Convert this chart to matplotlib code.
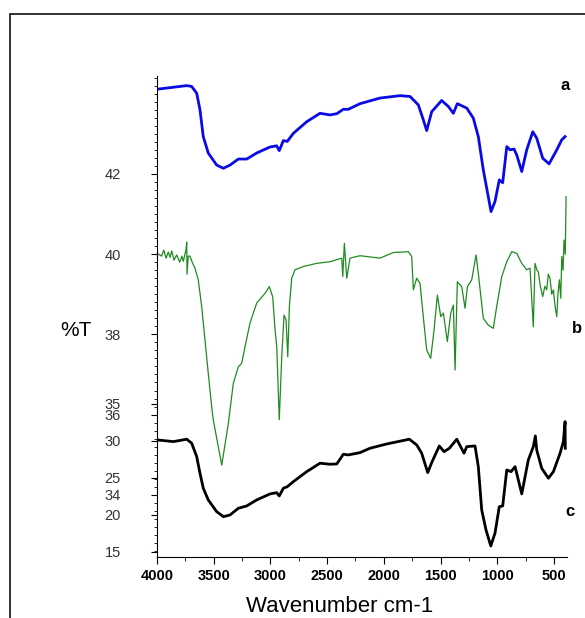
import matplotlib.pyplot as plt
from matplotlib.ticker import MultipleLocator
from matplotlib.patches import Rectangle

plt.rcParams['font.family'] = ['Liberation Sans', 'DejaVu Sans']

# === DATA =====================================================================
# sample a (blue), left scale 34..42
wn_a = [4000, 3738, 3694, 3650, 3621, 3592, 3548, 3474, 3415, 3356, 3283, 3209,
        3121, 3004, 2945, 2922, 2886, 2851, 2798, 2680, 2563, 2474, 2415, 2357,
        2313, 2210, 2034, 1857, 1769, 1696, 1652, 1622, 1578, 1490, 1431, 1387,
        1352, 1269, 1211, 1167, 1123, 1079, 1055, 1020, 982, 952, 916, 887, 852,
        828, 784, 740, 687, 652, 599, 543, 475, 431, 402]
t_a = [44.11, 44.20, 44.18, 44.01, 43.60, 42.93, 42.52, 42.22, 42.14, 42.22, 42.37, 42.37,
       42.52, 42.67, 42.70, 42.58, 42.83, 42.81, 43.01, 43.30, 43.51, 43.47, 43.50, 43.61,
       43.61, 43.75, 43.89, 43.95, 43.93, 43.72, 43.35, 43.08, 43.55, 43.83, 43.68, 43.51,
       43.75, 43.64, 43.39, 42.93, 42.10, 41.43, 41.06, 41.31, 41.85, 41.78, 42.68, 42.60, 42.62,
       42.47, 42.06, 42.60, 43.05, 42.89, 42.39, 42.25, 42.60, 42.85, 42.93]

# sample b (green), left scale 34..42
wn_b = [4000, 3960, 3940, 3920, 3900, 3885, 3870, 3850, 3826, 3800, 3780, 3768,
        3745, 3738, 3735, 3725, 3709, 3690, 3665, 3636, 3606, 3577, 3548, 3518,
        3504, 3429, 3371, 3327, 3283, 3253, 3224, 3180, 3121, 3048, 3010, 2980,
        2959, 2944, 2922, 2900, 2880, 2862, 2847, 2833, 2812, 2783, 2710, 2592,
        2474, 2371, 2362, 2348, 2327, 2298, 2210, 2034, 1916, 1784, 1754, 1740,
        1710, 1681, 1652, 1622, 1587, 1557, 1528, 1498, 1475, 1440, 1410, 1387,
        1372, 1352, 1313, 1284, 1263, 1225, 1187, 1167, 1123, 1079, 1035, 1005,
        960, 916, 872, 828, 784, 740, 711, 682, 667, 650, 638, 620, 599, 580,
        564, 550, 535, 520, 505, 490, 475, 465, 452, 440, 431, 420, 411, 400, 393]
t_b = [40.02, 39.95, 40.10, 39.90, 40.05, 39.92, 40.08, 39.85, 39.98, 39.80, 39.95, 39.82,
       40.10, 40.30, 39.50, 39.95, 39.95, 39.80, 39.65, 39.36, 38.69, 37.86, 37.03, 36.20,
       35.87, 34.74, 35.78, 36.78, 37.19, 37.28, 37.69, 38.28, 38.78, 39.02, 39.19, 38.94,
       38.11, 37.69, 35.87, 37.44, 38.48, 38.36, 37.44, 38.69, 39.40, 39.61, 39.69, 39.77,
       39.81, 39.90, 39.44, 40.27, 39.40, 39.90, 39.96, 39.90, 40.04, 40.06, 39.94, 39.11,
       39.40, 39.27, 38.44, 37.61, 37.40, 38.11, 38.98, 38.44, 38.53, 37.82, 38.53, 38.73,
       37.11, 39.31, 39.19, 38.65, 39.19, 39.36, 39.98, 39.52, 38.40, 38.23, 38.15, 38.69,
       39.44, 39.81, 40.06, 40.02, 39.77, 39.61, 39.65, 38.19, 39.77, 39.60, 39.56, 39.20, 38.94, 39.20,
       39.11, 39.50, 39.40, 39.00, 39.11, 38.70, 38.44, 39.00, 39.36, 38.90, 39.94, 39.60, 40.35, 40.00, 41.43]

# sample c (black), lower scale 15..35
wn_c = [4000, 3856, 3738, 3694, 3650, 3621, 3592, 3548, 3474, 3415, 3356, 3283,
        3209, 3121, 3004, 2945, 2922, 2886, 2851, 2798, 2680, 2563, 2474, 2415,
        2357, 2313, 2210, 2122, 1975, 1775, 1710, 1666, 1613, 1578, 1511, 1469,
        1422, 1357, 1293, 1269, 1196, 1167, 1137, 1099, 1057, 1020, 982, 952,
        916, 878, 843, 784, 726, 682, 664, 652, 608, 549, 505, 446, 417, 402, 400]
t_c = [30.14, 29.91, 30.23, 29.69, 27.88, 25.64, 23.61, 22.03, 20.45, 19.77, 20.00, 20.90,
       21.22, 22.03, 22.84, 23.01, 22.57, 23.61, 23.82, 24.50, 25.85, 26.99, 26.85, 26.89,
       28.20, 28.11, 28.42, 29.01, 29.59, 30.23, 29.46, 28.34, 25.72, 27.07, 29.32, 28.55,
       29.01, 30.23, 28.34, 29.23, 29.32, 26.53, 20.68, 17.97, 15.81, 17.53, 21.12, 21.22,
       26.08, 25.85, 26.53, 22.84, 27.43, 29.23, 30.68, 28.78, 26.31, 24.96, 25.85, 28.34,
       29.91, 32.61, 29.01]

ticks_ab = [34, 36, 38, 40, 42]
ticks_c = [15, 20, 25, 30, 35]
xticks = [4000, 3500, 3000, 2500, 2000, 1500, 1000, 500]

# === PLOT RENDERING ===========================================================
fig = plt.figure(figsize=(5.85, 6.18), dpi=100)
rect = [157 / 585, 1 - 557 / 618, 410 / 585, 481 / 618]

ax = fig.add_axes(rect)
ax.plot(wn_a, t_a, color='#0a0ae6', lw=2.0)
ax.plot(wn_b, t_b, color='#1e8c1e', lw=0.9)
ax.set_xlim(4000, 385)
ax.set_ylim(32.45, 44.44)
ax.set_xticks(xticks)
ax.xaxis.set_minor_locator(MultipleLocator(250))
ax.set_yticks(ticks_ab)
ax.yaxis.set_minor_locator(MultipleLocator(0.2))
for s in ['top', 'right']:
    ax.spines[s].set_visible(False)
ax.tick_params(axis='x', labelsize=10.5, length=5, pad=4, colors='black')
ax.tick_params(axis='x', which='minor', length=3)
ax.tick_params(axis='y', labelsize=10.5, length=4, pad=22, labelcolor='#333333')
ax.tick_params(axis='y', which='minor', length=2.5)
for lab in ax.get_xticklabels():
    lab.set_fontweight('bold')

ax2 = fig.add_axes(rect, sharex=ax)
ax2.patch.set_alpha(0)
ax2.plot(wn_c, t_c, color='black', lw=2.0)
ax2.set_ylim(14.32, 79.3)
ax2.set_yticks(ticks_c)
for s in ['top', 'right', 'bottom', 'left']:
    ax2.spines[s].set_visible(False)
ax2.xaxis.set_visible(False)
ax2.tick_params(axis='y', labelsize=10.5, length=4, pad=22, labelcolor='#333333')

fig.text(340 / 585, 1 - 607 / 618, 'Wavenumber cm-1', fontsize=16, ha='center', va='center')
fig.text(76 / 585, 1 - 330 / 618, '%T', fontsize=15, ha='center', va='center')
fig.text(565 / 585, 1 - 86 / 618, 'a', fontsize=12, fontweight='bold', ha='center', va='center')
fig.text(577 / 585, 1 - 329 / 618, 'b', fontsize=12, fontweight='bold', ha='center', va='center')
fig.text(570 / 585, 1 - 512 / 618, 'c', fontsize=12, fontweight='bold', ha='center', va='center')

fig.patches.append(Rectangle((10 / 585, -0.1), 1.2, 1 - 14 / 618 + 0.1, transform=fig.transFigure,
                             fill=False, edgecolor='#222222', lw=1.3))

fig.savefig('out.png', dpi=100)
